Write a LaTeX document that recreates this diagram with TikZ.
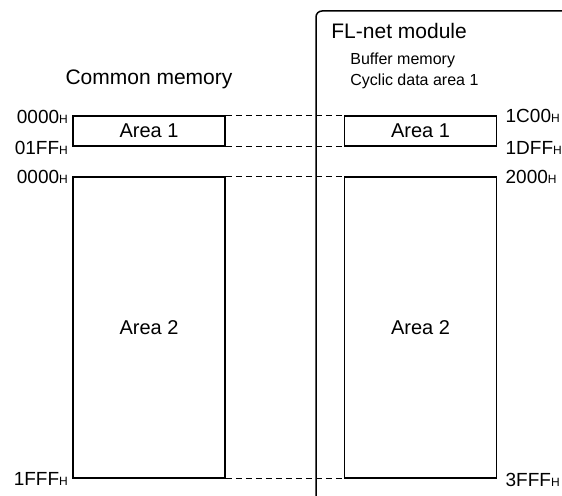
\documentclass[tikz,border=0pt]{standalone}
\usepackage{fontspec}
\setmainfont{Liberation Sans}
\usetikzlibrary{positioning}

\newcommand{\hexaddr}[1]{#1{\fontsize{6}{7}\selectfont H}}

\begin{document}
\begin{tikzpicture}[
    x=0.5pt, y=-0.5pt,
    font=\fontsize{10}{12}\selectfont,
    area/.style={rectangle,draw,line width=0.75pt,minimum width=76pt,inner sep=0pt},
    dashline/.style={dash pattern=on 3pt off 2pt,line width=0.5pt},
    addr/.style={inner sep=0pt,font=\fontsize{9.5}{11}\selectfont},
    title/.style={inner sep=0pt,font=\fontsize{10.5}{12}\selectfont},
    note/.style={inner sep=0pt,anchor=west,font=\fontsize{8}{10}\selectfont}
]
\useasboundingbox (0,0) rectangle (562,496);

% module frame
\draw[line width=0.75pt,rounded corners=3pt] (316,500) -- (316,11) -- (570,11);

\node[title] (common) at (149,79) {Common memory};
\node[title,anchor=west] (module) at (331,31) {FL-net module};
\node[note] (buf) at (350,60) {Buffer memory};
\node[note] (cyc) at (350,81) {Cyclic data area 1};

\node[area,minimum height=15pt] (leftA1) at (149,131) {Area 1};
\node[area,minimum height=150.5pt] (leftA2) at (149,327.5) {Area 2};
\node[area,minimum height=15pt] (rightA1) at (420.5,131) {Area 1};
\node[area,minimum height=150.5pt] (rightA2) at (420.5,327.5) {Area 2};

\draw[dashline] (leftA1.north east) -- (rightA1.north west);
\draw[dashline] (leftA1.south east) -- (rightA1.south west);
\draw[dashline] (leftA2.north east) -- (rightA2.north west);
\draw[dashline] (leftA2.south east) -- (rightA2.south west);

\node[addr,anchor=east] (l1) at ([xshift=-2pt,yshift=-1pt]leftA1.north west) {\hexaddr{0000}};
\node[addr,anchor=east] (l2) at ([xshift=-2pt,yshift=-0.5pt]leftA1.south west) {\hexaddr{01FF}};
\node[addr,anchor=east] (l3) at ([xshift=-2pt,yshift=-0.5pt]leftA2.north west) {\hexaddr{0000}};
\node[addr,anchor=east] (l4) at ([xshift=-2pt]leftA2.south west) {\hexaddr{1FFF}};

\node[addr,anchor=west] (r1) at ([xshift=4pt,yshift=-0.5pt]rightA1.north east) {\hexaddr{1C00}};
\node[addr,anchor=west] (r2) at ([xshift=4pt,yshift=-0.5pt]rightA1.south east) {\hexaddr{1DFF}};
\node[addr,anchor=west] (r3) at ([xshift=4pt,yshift=-0.5pt]rightA2.north east) {\hexaddr{2000}};
\node[addr,anchor=west] (r4) at ([xshift=4pt,yshift=-0.5pt]rightA2.south east) {\hexaddr{3FFF}};

\end{tikzpicture}
\end{document}
